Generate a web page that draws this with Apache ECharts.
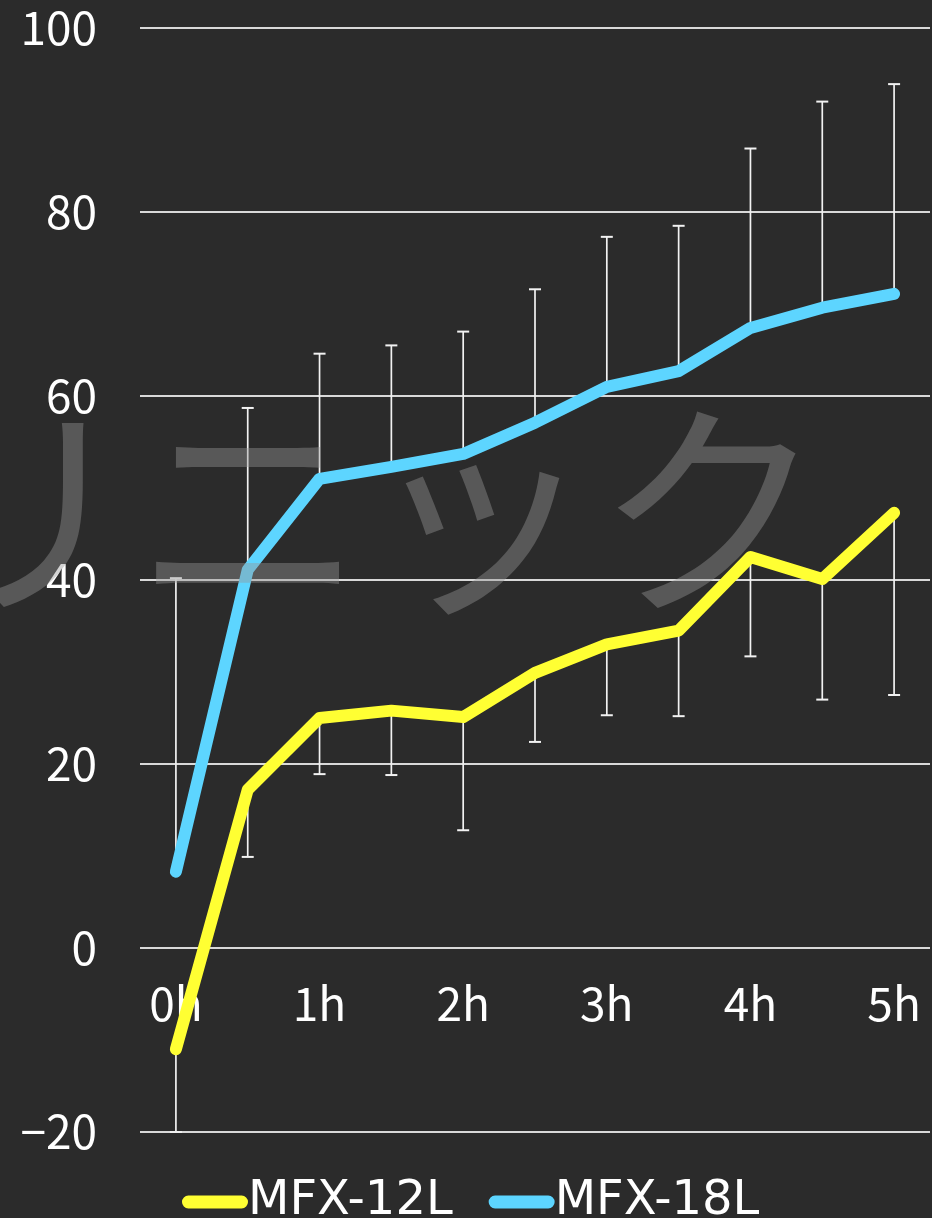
<!DOCTYPE html>
<html>
<head>
<meta charset="utf-8">
<script src="https://cdn.jsdelivr.net/npm/echarts@6/dist/echarts.min.js"></script>
<style>
html,body{margin:0;padding:0;background:#2b2b2b;}
#chart{width:932px;height:1218px;}
</style>
</head>
<body>
<div id="chart"></div>
<script>
const categories = ['0h','0.5h','1h','1.5h','2h','2.5h','3h','3.5h','4h','4.5h','5h'];
const seriesNames = ['MFX-12L','MFX-18L'];
const mfx12 = [-11.0, 17.2, 25.0, 25.8, 25.1, 29.9, 33.0, 34.5, 42.5, 40.1, 47.3];
const mfx12Low = [-20.0, 9.9, 18.9, 18.8, 12.8, 22.4, 25.3, 25.2, 31.7, 27.0, 27.5];
const mfx18 = [8.3, 41.1, 51.0, 52.3, 53.7, 57.1, 61.0, 62.7, 67.4, 69.6, 71.1];
const mfx18High = [40.2, 58.7, 64.6, 65.5, 67.0, 71.6, 77.3, 78.5, 86.9, 92.0, 93.9];
const yTicks = {min: -20, max: 100, interval: 20};
const watermark = 'リニック';

const FONT = '"Noto Sans CJK JP", "Noto Sans", sans-serif';
const LEGEND_FONT = '"DejaVu Sans", sans-serif';
const chart = echarts.init(document.getElementById('chart'));

function errorBarData(vals, ends) {
  return vals.map((v, i) => [i, v, ends[i]]);
}
function renderErrorBar(params, api) {
  const p0 = api.coord([api.value(0), api.value(1)]);
  const p1 = api.coord([api.value(0), api.value(2)]);
  const capHalf = 6;
  return {
    type: 'group',
    children: [
      {type: 'line', shape: {x1: p0[0], y1: p0[1], x2: p1[0], y2: p1[1]}, style: {stroke: '#f2f2f2', lineWidth: 1.7}},
      {type: 'line', shape: {x1: p1[0] - capHalf, y1: p1[1], x2: p1[0] + capHalf, y2: p1[1]}, style: {stroke: '#f2f2f2', lineWidth: 2}}
    ]
  };
}

const legendIcon = 'path://M6,0 L56,0 A6,6 0 0 1 56,12 L6,12 A6,6 0 0 1 6,0 Z';
// the category axis sits on the value 0 line: offset it up from the grid bottom
const zeroOffset = -184;

chart.setOption({
  backgroundColor: '#2b2b2b',
  animation: false,
  textStyle: {fontFamily: FONT},
  grid: {left: 140, right: 2, top: 28, bottom: 86, containLabel: false},
  legend: {
    data: [
      {name: seriesNames[0], icon: legendIcon},
      {name: seriesNames[1], icon: legendIcon}
    ],
    left: 177,
    top: 1173,
    itemWidth: 66,
    itemHeight: 13,
    itemGap: 36,
    textStyle: {color: '#ffffff', fontSize: 48, fontFamily: LEGEND_FONT, padding: [0, 0, 0, -5]}
  },
  xAxis: {
    type: 'category',
    data: categories,
    boundaryGap: true,
    position: 'bottom',
    offset: zeroOffset,
    axisLine: {show: false, onZero: false},
    axisTick: {show: false},
    axisLabel: {
      interval: 1,
      color: '#ffffff',
      fontSize: 46,
      fontFamily: FONT,
      margin: 33
    },
    splitLine: {show: false}
  },
  yAxis: {
    type: 'value',
    min: yTicks.min,
    max: yTicks.max,
    interval: yTicks.interval,
    axisLine: {show: false},
    axisTick: {show: false},
    axisLabel: {
      color: '#ffffff',
      fontSize: 46,
      fontFamily: FONT,
      margin: 43,
      formatter: v => (v < 0 ? '\u2212' + Math.abs(v) : String(v))
    },
    splitLine: {show: true, lineStyle: {color: '#d9d9d9', width: 2}}
  },
  graphic: [{
    type: 'text',
    left: -95,
    top: 395,
    z: 100,
    silent: true,
    style: {
      text: watermark,
      font: '230px "Noto Sans CJK JP"',
      fill: 'rgba(150,150,150,0.42)'
    }
  }],
  series: [
    {
      name: 'err12',
      type: 'custom',
      renderItem: renderErrorBar,
      data: errorBarData(mfx12, mfx12Low),
      z: 1,
      silent: true
    },
    {
      name: 'err18',
      type: 'custom',
      renderItem: renderErrorBar,
      data: errorBarData(mfx18, mfx18High),
      z: 1,
      silent: true
    },
    {
      name: seriesNames[0],
      type: 'line',
      data: mfx12,
      symbol: 'none',
      z: 5,
      color: '#ffff33',
      lineStyle: {color: '#ffff33', width: 12, cap: 'round', join: 'round'}
    },
    {
      name: seriesNames[1],
      type: 'line',
      data: mfx18,
      symbol: 'none',
      z: 5,
      color: '#5dd5ff',
      lineStyle: {color: '#5dd5ff', width: 12, cap: 'round', join: 'round'}
    }
  ]
});
</script>
</body>
</html>
